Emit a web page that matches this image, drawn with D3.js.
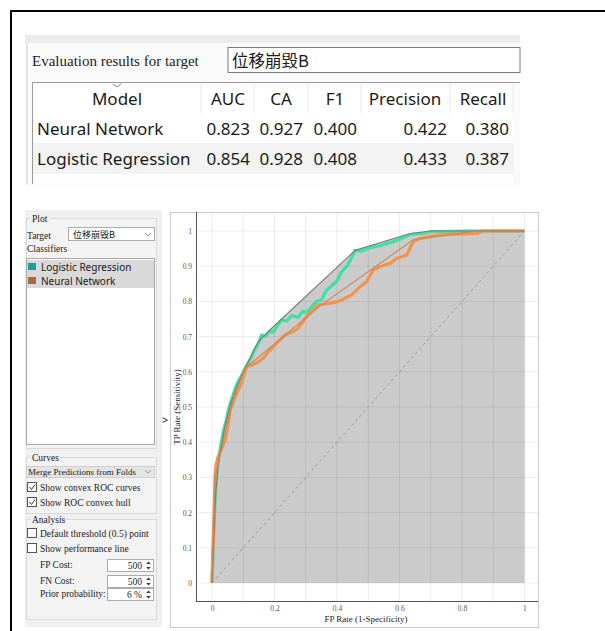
<!DOCTYPE html>
<html lang="en">
  <head>
    <meta charset="UTF-8" />
    <title>ROC Analysis</title>
    <script src="https://d3js.org/d3.v7.min.js"></script>
    <style>
      body { margin: 0; background: #fff; }
      .serif { font-family: 'Liberation Serif', 'DejaVu Serif', serif; fill: #222; }
      .sans { font-family: 'Noto Sans', 'Open Sans', sans-serif; fill: #1a1a1a; }
      .cjk { font-family: 'Noto Sans CJK TC', 'Noto Sans CJK SC', sans-serif; fill: #1a1a1a; }
    </style>
  </head>

  <body>
    <svg id="root" width="605" height="631"></svg>
    <script>
      // 评估表
      const targetName = '位移崩毀B'
      const metricNames = ['AUC', 'CA', 'F1', 'Precision', 'Recall']
      const modelNames = ['Neural Network', 'Logistic Regression']
      const nnScores = [0.823, 0.927, 0.4, 0.422, 0.38]
      const lrScores = [0.854, 0.928, 0.408, 0.433, 0.387]
      const classifierNames = ['Logistic Regression', 'Neural Network']

      // 坐标轴刻度
      const xTickValues = [0, 0.2, 0.4, 0.6, 0.8, 1]
      const yTickValues = [0, 0.1, 0.2, 0.3, 0.4, 0.5, 0.6, 0.7, 0.8, 0.9, 1]
      const gridValues = [0, 0.1, 0.2, 0.3, 0.4, 0.5, 0.6, 0.7, 0.8, 0.9, 1]

      // ROC 曲线 (FP rate / TP rate)
      const lrFpr = [0, 0.002, 0.004, 0.006, 0.009, 0.012, 0.016, 0.022, 0.03, 0.036, 0.045, 0.052, 0.058, 0.066, 0.075, 0.085, 0.095, 0.106, 0.115, 0.125, 0.135, 0.148, 0.159, 0.17, 0.185, 0.195, 0.208, 0.223, 0.24, 0.255, 0.276, 0.29, 0.305, 0.319, 0.335, 0.351, 0.365, 0.383, 0.4, 0.415, 0.432, 0.447, 0.458, 0.48, 0.5, 0.516, 0.54, 0.559, 0.575, 0.591, 0.615, 0.634, 0.67, 0.7, 0.76, 0.826, 1]
      const lrTpr = [0, 0.05, 0.1, 0.16, 0.22, 0.27, 0.32, 0.36, 0.4, 0.43, 0.46, 0.49, 0.51, 0.53, 0.555, 0.575, 0.59, 0.61, 0.625, 0.64, 0.66, 0.68, 0.705, 0.7, 0.716, 0.712, 0.73, 0.747, 0.745, 0.76, 0.755, 0.772, 0.768, 0.785, 0.8, 0.805, 0.83, 0.845, 0.858, 0.884, 0.9, 0.925, 0.945, 0.943, 0.95, 0.955, 0.958, 0.965, 0.968, 0.974, 0.982, 0.99, 0.993, 0.998, 0.999, 1, 1]
      const nnFpr = [0, 0.002, 0.004, 0.006, 0.008, 0.01, 0.014, 0.02, 0.03, 0.042, 0.05, 0.058, 0.068, 0.08, 0.095, 0.111, 0.13, 0.148, 0.165, 0.18, 0.195, 0.212, 0.234, 0.255, 0.276, 0.298, 0.319, 0.34, 0.36, 0.378, 0.404, 0.426, 0.447, 0.463, 0.474, 0.495, 0.516, 0.538, 0.57, 0.591, 0.623, 0.644, 0.666, 0.698, 0.73, 0.783, 0.847, 0.868, 1]
      const nnTpr = [0, 0.08, 0.12, 0.18, 0.25, 0.31, 0.34, 0.36, 0.38, 0.406, 0.44, 0.49, 0.515, 0.54, 0.57, 0.615, 0.62, 0.629, 0.64, 0.657, 0.67, 0.686, 0.705, 0.712, 0.724, 0.752, 0.771, 0.79, 0.792, 0.795, 0.8, 0.809, 0.818, 0.832, 0.842, 0.856, 0.889, 0.899, 0.908, 0.922, 0.932, 0.97, 0.979, 0.984, 0.989, 0.991, 0.993, 1, 1]

      // 凸包
      const lrHullFpr = [0, 0.005, 0.012, 0.022, 0.04, 0.06, 0.08, 0.106, 0.148, 0.19, 0.458, 0.634, 0.7, 1]
      const lrHullTpr = [0, 0.12, 0.26, 0.35, 0.44, 0.51, 0.56, 0.61, 0.686, 0.723, 0.945, 0.993, 1, 1]
      const nnHullFpr = [0, 0.01, 0.04, 0.07, 0.106, 0.35, 0.644, 0.847, 1]
      const nnHullTpr = [0, 0.3, 0.42, 0.53, 0.61, 0.79, 0.975, 1, 1]

      const lrColor = '#3fe0a4'
      const nnColor = '#f5924c'
      const swatchColors = ['#1f9d94', '#a5694b']

      const svg = d3.select('#root')

      // 外框
      svg.append('path').attr('d', 'M11,631 V11 H605').attr('fill', 'none').attr('stroke', '#000').attr('stroke-width', 2)

      // ---------- 上方评估表 ----------
      const topPanel = svg.append('g')
      topPanel.append('rect').attr('x', 25).attr('y', 35).attr('width', 495).attr('height', 150).attr('fill', '#fafafa')
      topPanel.append('rect').attr('x', 25).attr('y', 35).attr('width', 495).attr('height', 8).attr('fill', '#ececec')
      topPanel.append('line').attr('x1', 27).attr('x2', 27).attr('y1', 43).attr('y2', 185).attr('stroke', '#cfcfcf')
      topPanel.append('text').attr('class', 'serif').attr('x', 32).attr('y', 66).attr('font-size', 15).text('Evaluation results for target')
      topPanel.append('rect').attr('x', 228).attr('y', 47.5).attr('width', 292).attr('height', 25).attr('fill', '#fff').attr('stroke', '#7a7a7a')
      topPanel.append('text').attr('class', 'cjk').attr('x', 232).attr('y', 67).attr('font-size', 16.5).text(targetName)

      const table = topPanel.append('g')
      table.append('rect').attr('x', 32.5).attr('y', 82.5).attr('width', 481).attr('height', 101).attr('fill', '#fff')
      table.append('path').attr('d', 'M32.5,184 V82.5 H520').attr('fill', 'none').attr('stroke', '#9a9a9a')
      table.append('rect').attr('x', 33).attr('y', 143).attr('width', 481).attr('height', 31).attr('fill', '#f3f3f3')

      const colEdges = [33, 201, 254, 308, 361, 450, 513]
      colEdges.slice(1).forEach((cx) => {
        table.append('line').attr('x1', cx).attr('x2', cx).attr('y1', 84).attr('y2', 113).attr('stroke', '#e6e6e6')
      })
      const headers = ['Model'].concat(metricNames)
      const headerCenters = [117, 228, 281, 335, 405, 483]
      headers.forEach((h, i) => {
        table.append('text').attr('class', 'sans').attr('x', headerCenters[i]).attr('y', 105).attr('font-size', 17)
          .attr('text-anchor', 'middle').attr('fill', '#333').text(h)
      })
      table.append('path').attr('d', 'M113,84 L117,87 L121,84').attr('fill', 'none').attr('stroke', '#888').attr('stroke-width', 1)

      const valueRight = [250, 303, 357, 447, 509]
      const rowBase = [135, 165]
      const rowScores = [nnScores, lrScores]
      modelNames.forEach((m, r) => {
        table.append('text').attr('class', 'sans').attr('x', 37).attr('y', rowBase[r]).attr('font-size', 17).text(m)
        rowScores[r].forEach((v, c) => {
          table.append('text').attr('class', 'sans').attr('x', valueRight[c]).attr('y', rowBase[r]).attr('font-size', 17)
            .attr('text-anchor', 'end').text(v.toFixed(3))
        })
      })

      // ---------- 左侧控制面板 ----------
      const panel = svg.append('g')
      panel.append('rect').attr('x', 25).attr('y', 210).attr('width', 137).attr('height', 417).attr('fill', '#f0f0f0')

      const groupBox = (y, h, label, lw) => {
        panel.append('rect').attr('x', 26.5).attr('y', y + 0.5).attr('width', 130).attr('height', h).attr('fill', '#f3f3f3').attr('stroke', '#dadada')
        panel.append('rect').attr('x', 30).attr('y', y - 5).attr('width', lw).attr('height', 10).attr('fill', '#f0f0f0')
        panel.append('text').attr('class', 'serif').attr('x', 32).attr('y', y + 3.5).attr('font-size', 9.5).text(label)
      }
      groupBox(218, 230, 'Plot', 20)
      groupBox(457, 56, 'Curves', 30)
      groupBox(519, 100, 'Analysis', 34)

      panel.append('text').attr('class', 'serif').attr('x', 27).attr('y', 239).attr('font-size', 9.5).text('Target')
      panel.append('rect').attr('x', 68.5).attr('y', 227.5).attr('width', 86).attr('height', 13).attr('fill', '#fff').attr('stroke', '#ababab')
      panel.append('text').attr('class', 'cjk').attr('x', 73).attr('y', 238).attr('font-size', 9).attr('fill', '#333').text(targetName)
      panel.append('path').attr('d', 'M145,233 L148,236 L151,233').attr('fill', 'none').attr('stroke', '#999')
      panel.append('text').attr('class', 'serif').attr('x', 27).attr('y', 252).attr('font-size', 9.5).text('Classifiers')

      panel.append('rect').attr('x', 26.5).attr('y', 258.5).attr('width', 128).attr('height', 186).attr('fill', '#fff').attr('stroke', '#a8a8a8')
      panel.append('rect').attr('x', 27).attr('y', 260).attr('width', 127).attr('height', 28).attr('fill', '#d9d9d9')
      classifierNames.forEach((c, i) => {
        panel.append('rect').attr('x', 28).attr('y', 263 + i * 14).attr('width', 8).attr('height', 7).attr('fill', swatchColors[i])
        panel.append('text').attr('class', 'sans').attr('x', 41).attr('y', 271 + i * 14).attr('font-size', 10).attr('fill', '#222').text(c)
      })

      panel.append('rect').attr('x', 26.5).attr('y', 466.5).attr('width', 128).attr('height', 11).attr('fill', '#e4e4e4').attr('stroke', '#cfcfcf')
      panel.append('text').attr('class', 'serif').attr('x', 28).attr('y', 475).attr('font-size', 9).text('Merge Predictions from Folds')
      panel.append('path').attr('d', 'M145,470 L148,473 L151,470').attr('fill', 'none').attr('stroke', '#999')

      const checkBox = (y, label, checked) => {
        panel.append('rect').attr('x', 27.5).attr('y', y + 0.5).attr('width', 9).attr('height', 9).attr('fill', '#fff').attr('stroke', '#555')
        if (checked) {
          panel.append('path').attr('d', `M29.5,${y + 5} L31.5,${y + 7.5} L35,${y + 2.5}`).attr('fill', 'none').attr('stroke', '#333')
        }
        panel.append('text').attr('class', 'serif').attr('x', 40).attr('y', y + 8.5).attr('font-size', 9.5).text(label)
      }
      checkBox(482, 'Show convex ROC curves', true)
      checkBox(497, 'Show ROC convex hull', true)
      checkBox(528, 'Default threshold (0.5) point', false)
      checkBox(543, 'Show performance line', false)

      const spinBox = (y, label, value, disabled) => {
        panel.append('text').attr('class', 'serif').attr('x', 40).attr('y', y + 9).attr('font-size', 9.5).text(label)
        panel.append('rect').attr('x', 107.5).attr('y', y + 0.5).attr('width', 46).attr('height', 12).attr('fill', '#fff').attr('stroke', '#ababab')
        panel.append('text').attr('class', 'serif').attr('x', 142).attr('y', y + 9.5).attr('font-size', 9.5).attr('text-anchor', 'end')
          .attr('fill', disabled ? '#aaa' : '#222').text(value)
        panel.append('path').attr('d', `M146,${y + 5} L148.5,${y + 2.5} L151,${y + 5} Z M146,${y + 8} L148.5,${y + 10.5} L151,${y + 8} Z`).attr('fill', '#444')
      }
      spinBox(559, 'FP Cost:', '500', false)
      spinBox(575, 'FN Cost:', '500', false)
      spinBox(588, 'Prior probability:', '6 %', true)

      svg.append('text').attr('class', 'sans').attr('x', 162).attr('y', 424).attr('font-size', 11).attr('fill', '#b0b0b0').text('>')

      // ---------- ROC 图 ----------
      const plotLeft = 170, plotTop = 212, plotRight = 538, plotBottom = 627
      svg.append('rect').attr('x', plotLeft + 0.5).attr('y', plotTop + 0.5).attr('width', plotRight - plotLeft).attr('height', plotBottom - plotTop)
        .attr('fill', '#fff').attr('stroke', '#c9c9c9')

      const xScale = d3.scaleLinear().domain([-0.05, 1.05]).range([196.4, 540.1])
      const yScale = d3.scaleLinear().domain([-0.05, 1.05]).range([600.6, 213.4])

      const plot = svg.append('g')
      svg.append('clipPath').attr('id', 'clip').append('rect').attr('x', 196).attr('y', plotTop + 1).attr('width', plotRight - 196).attr('height', 601 - plotTop)
      const inner = plot.append('g').attr('clip-path', 'url(#clip)')

      const toPoints = (fx, ty) => fx.map((f, i) => [f, ty[i]])
      const lrHull = toPoints(lrHullFpr, lrHullTpr)
      const nnHull = toPoints(nnHullFpr, nnHullTpr)
      const lrCurve = toPoints(lrFpr, lrTpr)
      const nnCurve = toPoints(nnFpr, nnTpr)

      // 凸包填充
      const area = d3.area().x((d) => xScale(d[0])).y0(yScale(0)).y1((d) => yScale(d[1]))
      inner.append('path').datum(lrHull).attr('d', area).attr('fill', '#cbcbcb')

      // 网格
      inner.selectAll('line.vgrid').data(gridValues).join('line').attr('class', 'vgrid')
        .attr('x1', (d) => xScale(d)).attr('x2', (d) => xScale(d)).attr('y1', plotTop).attr('y2', 601)
        .attr('stroke', '#000').attr('stroke-opacity', 0.07)
      inner.selectAll('line.hgrid').data(gridValues).join('line').attr('class', 'hgrid')
        .attr('x1', 196).attr('x2', plotRight).attr('y1', (d) => yScale(d)).attr('y2', (d) => yScale(d))
        .attr('stroke', '#000').attr('stroke-opacity', 0.07)

      // 对角线
      inner.append('line').attr('x1', xScale(0)).attr('y1', yScale(0)).attr('x2', xScale(1)).attr('y2', yScale(1))
        .attr('stroke', '#9a9a9a').attr('stroke-dasharray', '3,3').attr('stroke-width', 1)

      const line = d3.line().x((d) => xScale(d[0])).y((d) => yScale(d[1]))
      inner.append('path').datum(lrCurve).attr('d', line).attr('fill', 'none').attr('stroke', lrColor).attr('stroke-width', 3.2).attr('stroke-linejoin', 'round')
      inner.append('path').datum(nnCurve).attr('d', line).attr('fill', 'none').attr('stroke', nnColor).attr('stroke-width', 3.2).attr('stroke-linejoin', 'round')
      inner.append('path').datum(lrHull).attr('d', line).attr('fill', 'none').attr('stroke', '#7d7d7d').attr('stroke-width', 1.1)
      inner.append('path').datum(nnHull).attr('d', line).attr('fill', 'none').attr('stroke', '#c4875f').attr('stroke-width', 1.1)

      // 坐标轴
      const xAxis = d3.axisBottom(xScale).tickValues(xTickValues).tickSize(0).tickPadding(5).tickFormat((d) => d3.format('~g')(d))
      const yAxis = d3.axisLeft(yScale).tickValues(yTickValues).tickSize(0).tickPadding(4).tickFormat((d) => d3.format('~g')(d))
      const gx = plot.append('g').attr('transform', 'translate(0,601)').call(xAxis)
      const gy = plot.append('g').attr('transform', 'translate(196,0)').call(yAxis)
      gx.select('.domain').attr('d', `M196,0.5H${plotRight}`).attr('stroke', '#555')
      gy.select('.domain').attr('d', `M0.5,${plotTop}V601`).attr('stroke', '#555')
      ;[gx, gy].forEach((g) => g.selectAll('text').attr('font-family', "'Liberation Serif', serif").attr('font-size', 7.5).attr('fill', '#555'))

      plot.append('text').attr('class', 'serif').attr('x', 366).attr('y', 622).attr('font-size', 9).attr('text-anchor', 'middle').attr('fill', '#333')
        .text('FP Rate (1-Specificity)')
      plot.append('text').attr('class', 'serif').attr('transform', 'translate(180,407) rotate(-90)').attr('font-size', 9)
        .attr('text-anchor', 'middle').attr('fill', '#333').text('TP Rate (Sensitivity)')
    </script>
  </body>
</html>
